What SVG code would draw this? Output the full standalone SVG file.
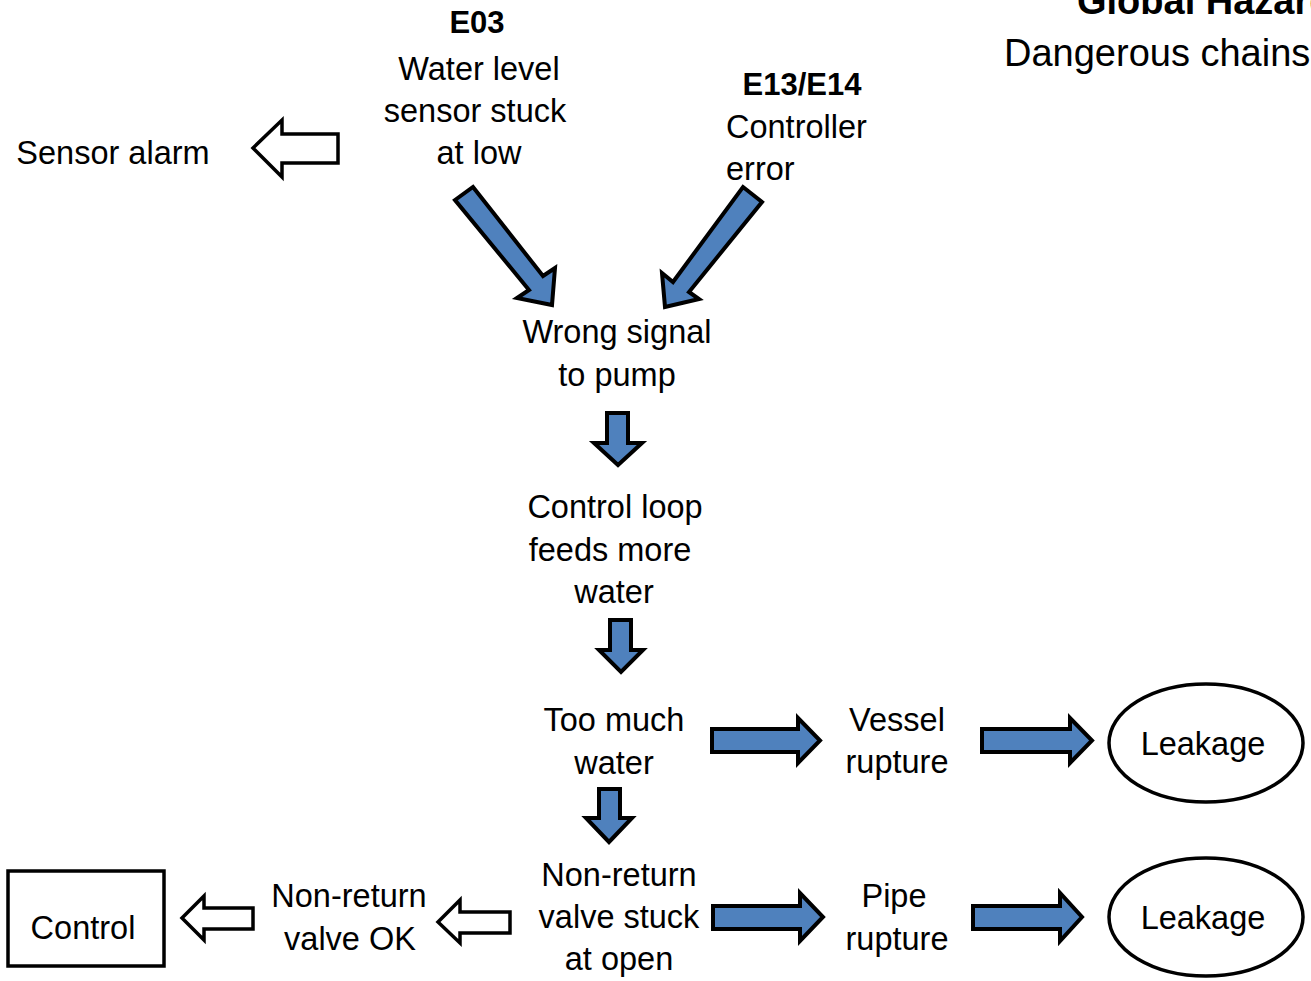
<svg xmlns="http://www.w3.org/2000/svg" width="1311" height="981" viewBox="0 0 1311 981">
<style>
text{font-family:"Liberation Sans",Arial,sans-serif;font-size:32.5px;fill:#000}
.c{text-anchor:middle}
.b{font-weight:bold;font-size:31px}
.t{font-size:38px}
.blue{fill:#4F81BD;stroke:#000;stroke-width:4;stroke-linejoin:miter}
.hollow{fill:#fff;stroke:#000;stroke-width:3.5;stroke-linejoin:miter}
.shape{fill:#fff;stroke:#000;stroke-width:3.5}
</style>
<rect width="1311" height="981" fill="#fff"/>
<g id="title">
<text class="b t" x="1077" y="14">Global Hazard</text>
<text class="t" x="1004" y="66">Dangerous chains</text>
</g>
<g id="e03">
<text class="c b" x="477" y="33">E03</text>
<text class="c" x="479" y="80">Water level</text>
<text class="c" x="475" y="122">sensor stuck</text>
<text class="c" x="479" y="164">at low</text>
</g>
<g id="e13">
<text class="c b" x="802" y="95">E13/E14</text>
<text x="726" y="138">Controller</text>
<text x="726" y="180">error</text>
</g>
<g id="sensor-alarm">
<text class="c" x="113" y="164">Sensor alarm</text>
</g>
<g id="wrong-signal">
<text class="c" x="617" y="343">Wrong signal</text>
<text class="c" x="617" y="386">to pump</text>
</g>
<g id="control-loop">
<text class="c" x="615" y="518">Control loop</text>
<text class="c" x="610" y="561">feeds more</text>
<text class="c" x="614" y="603">water</text>
</g>
<g id="too-much-water">
<text class="c" x="614" y="731">Too much</text>
<text class="c" x="614" y="774">water</text>
</g>
<g id="vessel-rupture">
<text class="c" x="897" y="731">Vessel</text>
<text class="c" x="897" y="773">rupture</text>
</g>
<g id="leakage1">
<ellipse class="shape" cx="1206" cy="743" rx="97" ry="59"/>
<text class="c" x="1203" y="755">Leakage</text>
</g>
<g id="nrv-stuck">
<text class="c" x="619" y="886">Non-return</text>
<text class="c" x="619" y="928">valve stuck</text>
<text class="c" x="619" y="970">at open</text>
</g>
<g id="pipe-rupture">
<text class="c" x="894" y="907">Pipe</text>
<text class="c" x="897" y="950">rupture</text>
</g>
<g id="leakage2">
<ellipse class="shape" cx="1206" cy="917" rx="97" ry="59"/>
<text class="c" x="1203" y="929">Leakage</text>
</g>
<g id="nrv-ok">
<text class="c" x="349" y="907">Non-return</text>
<text class="c" x="350" y="950">valve OK</text>
</g>
<g id="control">
<rect class="shape" x="8" y="871" width="156" height="95"/>
<text class="c" x="83" y="939">Control</text>
</g>
<g id="connectors">
<polygon class="hollow" points="253,148 282,120 282,134 338,134 338,163 282,163 282,177"/>
<polygon class="blue" points="455,200 473,187 543,276 555,268 552,305 517,298 529,290"/>
<polygon class="blue" points="743,187 762,202 689,292 699,299 665,307 662,273 673,282"/>
<polygon class="blue" points="607,413 628,413 628,443 642,443 618,465 594,443 607,443"/>
<polygon class="blue" points="610,620 631,620 631,650 643,650 621,672 599,650 610,650"/>
<polygon class="blue" points="599,789 620,789 620,818 632,818 609,842 586,818 599,818"/>
<polygon class="blue" points="712,729 798,729 798,718 820,740.5 798,763 798,752 712,752"/>
<polygon class="blue" points="982,729 1070,729 1070,718 1092,740.5 1070,763 1070,752 982,752"/>
<polygon class="blue" points="713,906 800,906 800,893 823,917 800,941 800,929 713,929"/>
<polygon class="blue" points="973,906 1060,906 1060,893 1082,917 1060,941 1060,929 973,929"/>
<polygon class="hollow" points="438,922 460,900 460,912 510,912 510,933 460,933 460,943"/>
<polygon class="hollow" points="182,918 204,896 204,908 253,908 253,929 204,929 204,940"/>
</g>
</svg>
